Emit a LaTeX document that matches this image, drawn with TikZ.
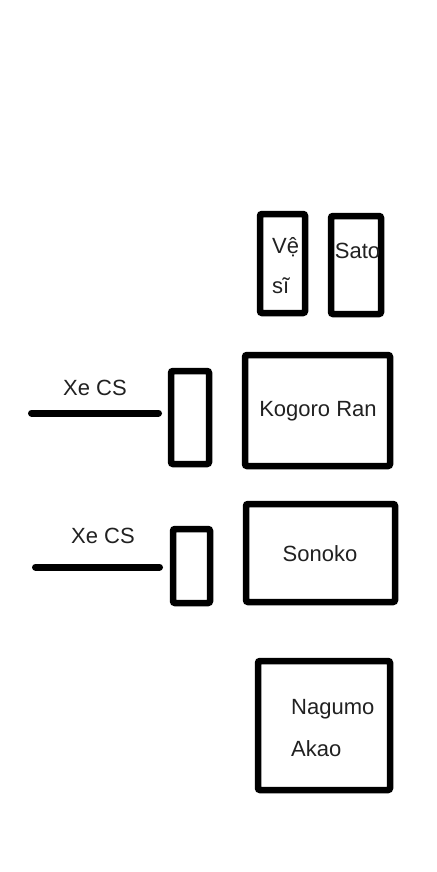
\documentclass[tikz,border=0pt]{standalone}
\usepackage{fontspec}
\setmainfont{Liberation Sans}
\begin{document}
\begin{tikzpicture}[x=1pt,y=-1pt,
  box/.style 2 args={draw=black,line width=6.5pt,rounded corners=2pt,inner sep=0pt,minimum width=#1,minimum height=#2},
  road/.style={draw=black,line width=7pt,line cap=round},
  txt/.style={font=\fontsize{22}{42}\selectfont,text=black!87,inner sep=0pt}]
\useasboundingbox[fill=white] (0,0) rectangle (436,872);
% boxes
\node[box={45pt}{99pt}] (vesi) at (282.5,263.5) {};
\node[box={50pt}{98pt}] (sato) at (356,265) {};
\node[box={38pt}{93pt}] (door1) at (190,417.5) {};
\node[box={145pt}{111pt}] (kogoro) at (317.5,410.5) {};
\node[box={37pt}{74pt}] (door2) at (191.5,566) {};
\node[box={149pt}{98pt}] (sonoko) at (320.5,553) {};
\node[box={132pt}{129pt}] (nagumo) at (324,725.5) {};
% roads
\coordinate (r1a) at (31.5,413);
\coordinate (r1b) at (158.5,413);
\coordinate (r2a) at (35.5,567);
\coordinate (r2b) at (159.5,567);
\draw[road] (r1a) -- (r1b);
\draw[road] (r2a) -- (r2b);
% labels
\node[txt,anchor=base west] (t1) at (272,253) {Vệ};
\node[txt,anchor=base west] (t2) at (272,293) {sĩ};
\node[txt,anchor=base] (t3) at (357.5,258) {Sato};
\node[txt,anchor=base] (t4) at (318,416) {Kogoro Ran};
\node[txt,anchor=base] (t5) at (320,561) {Sonoko};
\node[txt,anchor=base west] (t6) at (291,714) {Nagumo};
\node[txt,anchor=base west] (t7) at (291,756) {Akao};
\node[txt,anchor=base west] (t8) at (63,395) {Xe CS};
\node[txt,anchor=base west] (t9) at (71,543) {Xe CS};
\end{tikzpicture}
\end{document}
